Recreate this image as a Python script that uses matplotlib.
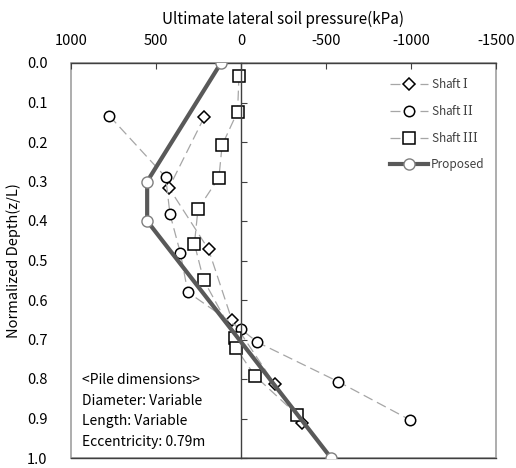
import matplotlib
matplotlib.use("Agg")
import matplotlib.pyplot as plt
from matplotlib.patches import Rectangle

plt.rcParams['font.family'] = ['Noto Sans CJK KR', 'DejaVu Sans']
plt.rcParams['mathtext.fontset'] = 'custom'
plt.rcParams['mathtext.rm'] = 'DejaVu Serif'

# Data (pressure kPa, normalized depth)
shaft1_p = [216, 424, 191, 54, -198, -358]
shaft1_z = [0.137, 0.316, 0.472, 0.65, 0.813, 0.912]

shaft2_p = [774, 443, 418, 356, 313, 0, -97, -573, -996]
shaft2_z = [0.134, 0.289, 0.382, 0.482, 0.58, 0.674, 0.707, 0.807, 0.904]

shaft3_p = [12, 20, 111, 130, 253, 274, 220, 35, 29, -82, -331]
shaft3_z = [0.032, 0.123, 0.208, 0.29, 0.37, 0.458, 0.549, 0.695, 0.722, 0.792, 0.891]

prop_p = [118, 552, 552, -530]
prop_z = [0.0, 0.30, 0.40, 1.0]

series_labels = ['Shaft $\\mathrm{I}$', 'Shaft $\\mathrm{II}$', 'Shaft $\\mathrm{III}$', 'Proposed']

x_ticks = [1000, 500, 0, -500, -1000, -1500]
y_ticks = [0.0, 0.1, 0.2, 0.3, 0.4, 0.5, 0.6, 0.7, 0.8, 0.9, 1.0]

fig = plt.figure(figsize=(5.16, 4.68), dpi=100)
ax = fig.add_axes([71/516, 1-458/468, 425/516, 395/468])

line_kw = dict(color='#a6a6a6', lw=0.9, dashes=(8, 4))
mk_kw = dict(mfc='white', mec='black', mew=1.1, ms=7)
ax.plot(shaft1_p, shaft1_z, marker='D', label=series_labels[0], **line_kw, **dict(mk_kw, ms=6))
ax.plot(shaft2_p, shaft2_z, marker='o', label=series_labels[1], **line_kw, **dict(mk_kw, ms=7.5))
ax.plot(shaft3_p, shaft3_z, marker='s', label=series_labels[2], **line_kw, **dict(mk_kw, ms=8))
ax.plot(prop_p, prop_z, color='#595959', lw=3, marker='o', mfc='white', mec='#7f7f7f',
        mew=1, ms=8, label=series_labels[3], zorder=3)

ax.set_xlim(1000, -1500)
ax.set_ylim(1.0, 0.0)
ax.set_xticks(x_ticks)
ax.set_xticklabels([str(v) for v in x_ticks])
ax.set_yticks(y_ticks)
ax.set_yticklabels([f'{v:.1f}' for v in y_ticks])

ax.xaxis.set_label_position('top')
ax.xaxis.tick_top()
ax.set_xlabel('Ultimate lateral soil pressure(kPa)', fontsize=11, labelpad=7)
ax.set_ylabel('Normalized Depth(z/L)', fontsize=10.5, labelpad=4)

ax.tick_params(axis='x', which='major', direction='in', length=4, color='#404040',
               labelsize=10.5, pad=11)
ax.tick_params(axis='y', which='major', left=False, right=True, labelleft=True,
               labelright=False, direction='out', length=4, color='#404040',
               labelsize=10.5, pad=13)

for s in ['left', 'bottom']:
    ax.spines[s].set_visible(False)
ax.spines['top'].set_color('#404040')
ax.spines['top'].set_linewidth(1.0)
ax.spines['right'].set_position(('data', 0))
ax.spines['right'].set_color('#404040')
ax.spines['right'].set_linewidth(1.0)

# plot-area frame
ax.add_patch(Rectangle((0, 0), 1, 1, transform=ax.transAxes, fill=False,
                       edgecolor='#a0a0a0', lw=1.2, zorder=0.5, clip_on=False))
ax.plot([0, 1], [0, 0], transform=ax.transAxes, color='#404040', lw=1.0, clip_on=False)

leg = ax.legend(loc='upper right', frameon=False, handlelength=3.2,
                labelspacing=1.1, handletextpad=0.2, borderaxespad=0.6,
                bbox_to_anchor=(1.0, 0.995), fontsize=8.5)
for t in leg.get_texts():
    t.set_color('#404040')

ax.text(0.027, 0.215, '<Pile dimensions>\nDiameter: Variable\nLength: Variable\nEccentricity: 0.79m',
        transform=ax.transAxes, fontsize=10, va='top', ha='left', linespacing=1.6)

fig.savefig('out.png', dpi=100)
